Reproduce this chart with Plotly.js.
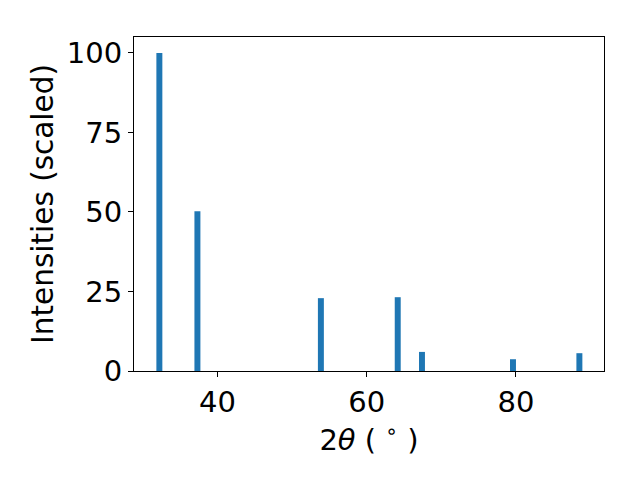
<!DOCTYPE html>
<html>
<head>
<meta charset="utf-8">
<script src="https://cdn.plot.ly/plotly-3.0.1.min.js"></script>
<style>html,body{margin:0;padding:0;background:#fff}</style>
</head>
<body>
<div id="chart" style="width:640px;height:480px"></div>
<script>
const twoTheta = [32.2, 37.3, 53.85, 64.15, 67.4, 79.6, 88.5];
const intensity = [100, 50.2, 22.9, 23.2, 6.0, 3.7, 5.6];
const barWidth = 0.8;

const font = {family: 'DejaVu Sans, sans-serif', size: 29, color: '#000'};
const yTitleFont = {family: 'DejaVu Sans, sans-serif', size: 29.5, color: '#000'};

Plotly.newPlot('chart', [{
  type: 'bar',
  x: twoTheta,
  y: intensity,
  width: twoTheta.map(() => barWidth),
  marker: {color: '#1f77b4', line: {width: 0}},
  hoverinfo: 'x+y'
}], {
  width: 640, height: 480,
  paper_bgcolor: '#fff', plot_bgcolor: '#fff',
  margin: {l: 134, r: 36, t: 37, b: 109},
  font: font,
  showlegend: false,
  xaxis: {
    range: [28.8, 91.8],
    tickvals: [40, 60, 80],
    ticks: 'outside', ticklen: 5, tickwidth: 1, tickcolor: '#000',
    showline: true, linecolor: '#000', linewidth: 1, mirror: true,
    showgrid: false, zeroline: false,
    tickfont: font,
    title: {text: '2<i>θ</i> ( <sup>∘</sup> )', font: font, standoff: 2}
  },
  yaxis: {
    range: [0, 105],
    tickvals: [0, 25, 50, 75, 100],
    ticks: 'outside', ticklen: 5, tickwidth: 1, tickcolor: '#000',
    showline: true, linecolor: '#000', linewidth: 1, mirror: true,
    showgrid: false, zeroline: false,
    tickfont: font,
    title: {text: 'Intensities (scaled)', font: yTitleFont, standoff: 4}
  }
}, {displayModeBar: false, staticPlot: true});
</script>
</body>
</html>
